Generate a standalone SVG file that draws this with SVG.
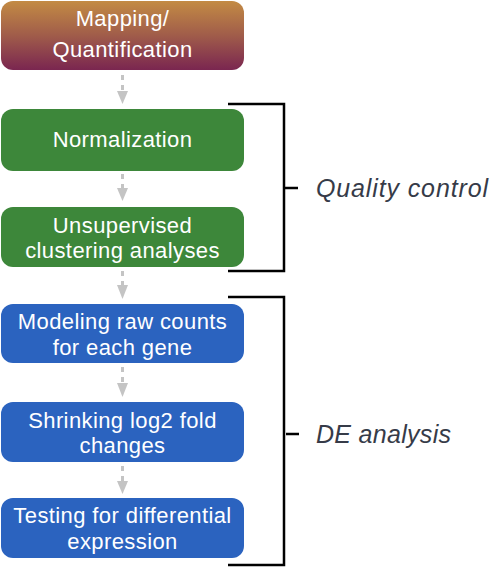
<svg xmlns="http://www.w3.org/2000/svg" width="501" height="567" viewBox="0 0 501 567">
<defs>
<linearGradient id="g1" x1="0" y1="0" x2="0" y2="1">
<stop offset="0" stop-color="#c38b44"/>
<stop offset="0.5" stop-color="#a05c4a"/>
<stop offset="1" stop-color="#7a2650"/>
</linearGradient>
<style>
.box text{font-family:"Liberation Sans",Arial,sans-serif;font-size:22px;fill:#ffffff;text-anchor:middle;letter-spacing:0.4px}
.green{fill:#3d873a}
.blue{fill:#2b63bf}
.dash{stroke:#c4c4c4;stroke-width:3;stroke-dasharray:5 5;fill:none}
.head{fill:#c4c4c4}
.br{stroke:#000;stroke-width:2.5;fill:none}
.lbl{font-family:"Liberation Sans",Arial,sans-serif;font-size:25px;font-style:italic;fill:#363b48}
</style>
</defs>
<g id="mapping" class="box">
<rect x="1" y="1" width="243" height="69" rx="12" fill="url(#g1)"/>
<text x="122.5" y="26">Mapping/</text>
<text x="122.5" y="57">Quantification</text>
</g>
<g id="normalization" class="box">
<rect class="green" x="1" y="109" width="243" height="62" rx="12"/>
<text x="122.5" y="147">Normalization</text>
</g>
<g id="clustering" class="box">
<rect class="green" x="1" y="207" width="243" height="60" rx="12"/>
<text x="122.5" y="233">Unsupervised</text>
<text x="122.5" y="257.5">clustering analyses</text>
</g>
<g id="modeling" class="box">
<rect class="blue" x="1" y="304" width="243" height="59" rx="12"/>
<text x="122.5" y="329">Modeling raw counts</text>
<text x="122.5" y="355">for each gene</text>
</g>
<g id="shrinking" class="box">
<rect class="blue" x="1" y="402" width="243" height="60" rx="12"/>
<text x="122.5" y="428">Shrinking log2 fold</text>
<text x="122.5" y="453">changes</text>
</g>
<g id="testing" class="box">
<rect class="blue" x="1" y="498" width="243" height="60" rx="12"/>
<text x="122.5" y="523">Testing for differential</text>
<text x="122.5" y="549">expression</text>
</g>
<g id="connectors">
<path class="dash" d="M122.5,75 V91"/>
<polygon class="head" points="117,91 128,91 122.5,104"/>
<path class="dash" d="M122.5,174 V189"/>
<polygon class="head" points="117,188 128,188 122.5,201"/>
<path class="dash" d="M122.5,271 V286"/>
<polygon class="head" points="117,285 128,285 122.5,299"/>
<path class="dash" d="M122.5,367 V384"/>
<polygon class="head" points="117,383 128,383 122.5,397"/>
<path class="dash" d="M122.5,466 V482"/>
<polygon class="head" points="117,481 128,481 122.5,494"/>
</g>
<g id="qc-bracket">
<path class="br" d="M228,104 H284 V271 H228 M284,188 H298"/>
<text class="lbl" x="316" y="197" textLength="172" lengthAdjust="spacing">Quality control</text>
</g>
<g id="de-bracket">
<path class="br" d="M228,297 H284 V565 H228 M286,434 H299"/>
<text class="lbl" x="316" y="443" textLength="135" lengthAdjust="spacing">DE analysis</text>
</g>
</svg>
